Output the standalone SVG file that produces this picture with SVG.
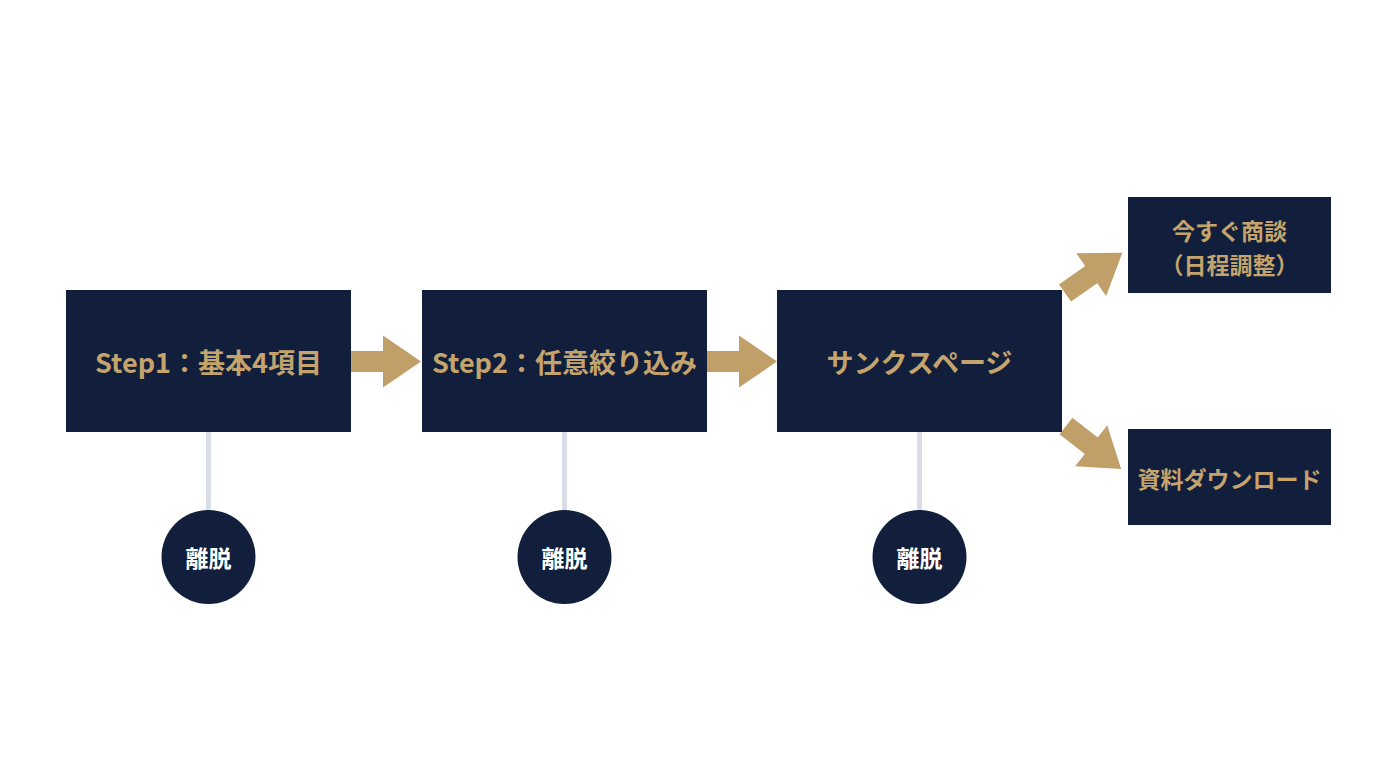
<svg xmlns="http://www.w3.org/2000/svg" width="1376" height="768" viewBox="0 0 1376 768">
<defs>
<style>
.box{fill:#111f3c}
.t{font-family:"Noto Sans CJK JP","Noto Sans",sans-serif;font-weight:700;fill:#c4a46c;text-anchor:middle;dominant-baseline:central}
.m{font-size:27px}
.s{font-size:23px}
.c{font-family:"Noto Sans CJK JP","Noto Sans",sans-serif;font-weight:700;fill:#ffffff;font-size:23px;text-anchor:middle;dominant-baseline:central}
.arr{fill:#c0a068}
.stem{stroke:#d9dde6;stroke-width:5}
</style>
<polygon id="arrow" points="0,-10.5 32,-10.5 32,-26 70,0 32,26 32,10.5 0,10.5"/>
</defs>
<rect width="1376" height="768" fill="#ffffff"/>
<g id="connectors">
<line class="stem" x1="208.5" y1="432" x2="208.5" y2="512"/>
<line class="stem" x1="564.5" y1="432" x2="564.5" y2="512"/>
<line class="stem" x1="919.5" y1="432" x2="919.5" y2="512"/>
<use href="#arrow" class="arr" transform="translate(351,361.5)"/>
<use href="#arrow" class="arr" transform="translate(707,361.5)"/>
<use href="#arrow" class="arr" transform="translate(1065,293) rotate(-35)"/>
<use href="#arrow" class="arr" transform="translate(1066,426) rotate(38)"/>
</g>
<g id="step1">
<rect class="box" x="66" y="290" width="285" height="142"/>
<text class="t m" x="208.5" y="361">Step1：基本4項目</text>
</g>
<g id="step2">
<rect class="box" x="422" y="290" width="285" height="142"/>
<text class="t m" x="564.5" y="361">Step2：任意絞り込み</text>
</g>
<g id="thanks">
<rect class="box" x="777" y="290" width="285" height="142"/>
<text class="t m" x="919.5" y="361">サンクスページ</text>
</g>
<g id="meeting">
<rect class="box" x="1128" y="197" width="203" height="96"/>
<text class="t s" x="1229.5" y="230">今すぐ商談</text>
<text class="t s" x="1229.5" y="264">（日程調整）</text>
</g>
<g id="download">
<rect class="box" x="1128" y="429" width="203" height="96"/>
<text class="t s" x="1229.5" y="478">資料ダウンロード</text>
</g>
<g id="exit1">
<circle class="box" cx="208.5" cy="557" r="47"/>
<text class="c" x="208.5" y="557">離脱</text>
</g>
<g id="exit2">
<circle class="box" cx="564.5" cy="557" r="47"/>
<text class="c" x="564.5" y="557">離脱</text>
</g>
<g id="exit3">
<circle class="box" cx="919.5" cy="557" r="47"/>
<text class="c" x="919.5" y="557">離脱</text>
</g>
</svg>
